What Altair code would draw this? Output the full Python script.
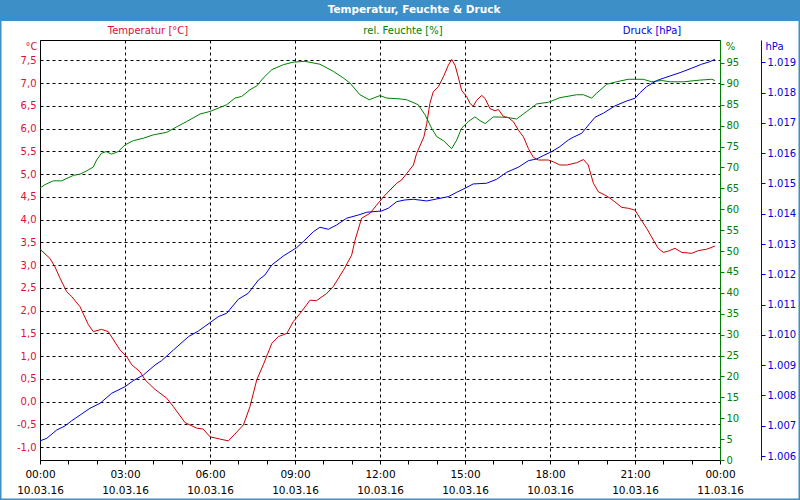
import altair as alt
import pandas as pd

# ---------------- data ----------------
temp_t = [0.0, 0.35, 0.53, 0.71, 0.94, 1.12, 1.41, 1.71, 1.88, 2.17, 2.41, 2.82, 3.06, 3.24, 3.53, 3.71,
          4.06, 4.47, 4.71, 5.12, 5.53, 5.76, 6.0, 6.35, 6.65, 7.18, 7.41, 7.65, 7.88, 8.18, 8.41, 8.71,
          8.94, 9.18, 9.53, 9.76, 10.12, 10.35, 10.71, 11.0, 11.12, 11.35, 11.65, 11.88, 12.18, 12.59,
          12.76, 12.94, 13.18, 13.29, 13.55, 13.65, 13.76, 13.88, 14.06, 14.24, 14.41, 14.53, 14.65,
          14.76, 14.88, 15.06, 15.18, 15.29, 15.41, 15.59, 15.71, 15.88, 16.06, 16.18, 16.35, 16.53,
          16.71, 16.88, 17.06, 17.24, 17.41, 17.59, 17.94, 18.12, 18.35, 18.59, 18.94, 19.18, 19.35,
          19.53, 19.71, 19.94, 20.12, 20.29, 20.53, 20.76, 21.0, 21.18, 21.41, 21.65, 21.82, 22.0,
          22.18, 22.41, 22.65, 23.0, 23.24, 23.53, 23.82]
temp_v = [3.35, 3.15, 2.96, 2.71, 2.42, 2.31, 2.09, 1.69, 1.54, 1.59, 1.54, 1.14, 0.99, 0.81, 0.66, 0.48,
          0.27, 0.08, -0.11, -0.46, -0.58, -0.60, -0.77, -0.82, -0.86, -0.51, -0.11, 0.48, 0.81, 1.28,
          1.43, 1.50, 1.76, 1.94, 2.23, 2.22, 2.38, 2.53, 2.89, 3.22, 3.55, 4.03, 4.14, 4.32, 4.54, 4.80,
          4.87, 5.01, 5.20, 5.45, 5.82, 6.11, 6.55, 6.81, 6.92, 7.14, 7.39, 7.52, 7.39, 7.14, 6.84, 6.70,
          6.55, 6.49, 6.62, 6.73, 6.66, 6.44, 6.39, 6.42, 6.27, 6.24, 6.15, 5.97, 5.82, 5.56, 5.37, 5.31,
          5.31, 5.27, 5.20, 5.20, 5.25, 5.32, 5.20, 4.80, 4.61, 4.54, 4.47, 4.39, 4.27, 4.25, 4.21, 4.03,
          3.81, 3.55, 3.37, 3.28, 3.31, 3.37, 3.28, 3.26, 3.32, 3.35, 3.42]

hum_t = [0.0, 0.18, 0.47, 0.76, 1.18, 1.41, 1.65, 1.88, 2.0, 2.17, 2.33, 2.53, 2.76, 3.0, 3.29, 3.65, 4.0,
         4.47, 4.82, 5.18, 5.65, 6.0, 6.59, 6.88, 7.12, 7.41, 7.65, 7.88, 8.18, 8.59, 8.94, 9.35, 9.88,
         10.35, 10.71, 10.94, 11.29, 11.62, 12.0, 12.24, 12.71, 12.94, 13.35, 13.59, 13.82, 14.0, 14.24,
         14.53, 14.71, 14.88, 15.12, 15.35, 15.53, 15.71, 16.0, 16.47, 16.82, 17.18, 17.53, 17.94, 18.35,
         18.94, 19.18, 19.47, 19.65, 20.0, 20.35, 20.76, 21.29, 21.59, 21.94, 22.24, 22.71, 23.29, 23.71,
         23.82]
hum_v = [65.1, 65.9, 66.8, 66.8, 68.1, 68.4, 69.2, 70.1, 71.8, 73.4, 73.8, 73.2, 73.8, 75.4, 76.4, 77.0, 77.8,
         78.4, 79.7, 81.0, 82.8, 83.4, 85.0, 86.6, 87.0, 88.6, 89.5, 91.4, 93.4, 94.6, 95.2, 95.4, 94.7,
         93.0, 91.4, 90.2, 87.4, 86.2, 87.2, 86.6, 86.4, 86.2, 85.0, 82.6, 79.4, 77.4, 76.4,
         74.5, 76.6, 79.4, 81.0, 82.1, 81.2, 80.5, 82.1, 82.0, 81.6, 83.4, 85.2, 85.6, 86.7,
         87.4, 87.4, 86.6, 87.8, 89.9, 90.5, 91.1, 91.1, 90.5, 90.8, 90.5, 90.5, 90.9, 91.1, 90.8]

press_t = [0.0, 0.24, 0.59, 0.88, 1.12, 1.47, 1.76, 2.12, 2.53, 3.0, 3.29, 3.65, 4.06, 4.29, 4.71, 5.24,
           5.59, 6.0, 6.29, 6.59, 7.0, 7.35, 7.71, 7.94, 8.18, 8.59, 9.06, 9.29, 9.65, 9.88, 10.18, 10.47,
           10.82, 11.24, 11.53, 12.06, 12.29, 12.59, 12.88, 13.18, 13.65, 14.0, 14.41, 14.71, 15.0, 15.29,
           15.76, 16.12, 16.47, 16.88, 17.24, 17.53, 17.76, 18.06, 18.35, 18.65, 18.82, 19.12, 19.41,
           19.59, 19.88, 20.29, 20.71, 21.0, 21.18, 21.41, 21.76, 22.06, 22.59, 23.0, 23.35, 23.65, 23.82]
press_v = [1006.50, 1006.585, 1006.859, 1006.991, 1007.166, 1007.387, 1007.575, 1007.740, 1008.071,
           1008.289, 1008.487, 1008.675, 1009.005, 1009.147, 1009.501, 1009.940, 1010.128, 1010.402,
           1010.600, 1010.713, 1011.175, 1011.373, 1011.812, 1011.978, 1012.308, 1012.605, 1012.880,
           1013.077, 1013.408, 1013.553, 1013.487, 1013.629, 1013.850, 1013.959, 1014.048, 1014.091,
           1014.180, 1014.398, 1014.454, 1014.477, 1014.421, 1014.487, 1014.563, 1014.709, 1014.841,
           1014.983, 1015.006, 1015.138, 1015.369, 1015.534, 1015.752, 1015.808, 1015.917, 1016.050,
           1016.215, 1016.436, 1016.525, 1016.657, 1016.987, 1017.186, 1017.318, 1017.559, 1017.724,
           1017.813, 1017.998, 1018.196, 1018.394, 1018.493, 1018.659, 1018.804, 1018.936, 1019.022,
           1019.101]

temp_ticks = [-1.0, -0.5, 0.0, 0.5, 1.0, 1.5, 2.0, 2.5, 3.0, 3.5, 4.0, 4.5, 5.0, 5.5, 6.0, 6.5, 7.0, 7.5]
hum_ticks = [0, 5, 10, 15, 20, 25, 30, 35, 40, 45, 50, 55, 60, 65, 70, 75, 80, 85, 90, 95]
press_ticks = [1006, 1007, 1008, 1009, 1010, 1011, 1012, 1013, 1014, 1015, 1016, 1017, 1018, 1019]
hour_ticks = list(range(25))

title_text = "Temperatur, Feuchte & Druck"
temp_label = "Temperatur [°C]"
hum_label = "rel. Feuchte [%]"
press_label = "Druck [hPa]"

df_t = pd.DataFrame({"t": temp_t, "v": temp_v})
df_h = pd.DataFrame({"t": hum_t, "v": hum_v})
df_p = pd.DataFrame({"t": press_t, "v": press_v})

# ---------------- styles ----------------
FONT = "DejaVu Sans"
RED_LINE = "#cc0000"
RED_TXT = "#d8103a"
GREEN = "#008000"
BLUE = "#0000dd"
BAR = "#3d8fc7"

W, H = 680, 420

x_scale = alt.Scale(domain=[0, 24], nice=False, zero=False)
x_axis = alt.Axis(
    values=hour_ticks,
    labelExpr="datum.value % 3 == 0 ? [(datum.value % 24 < 10 ? '0' : '') + (datum.value % 24) + ':00', "
              "datum.value < 24 ? '10.03.16' : '11.03.16'] : ''",
    grid=True,
    gridDash=[3, 3],
    gridColor="black",
    gridOpacity={"condition": {"test": "datum.value % 3 != 0 || datum.value == 0 || datum.value == 24",
                               "value": 0}, "value": 1},
    domainColor="black",
    tickColor="black",
    tickSize=4,
    labelPadding=5,
    labelFlush=False,
    labelOverlap=False,
    labelLineHeight=16,
    labelFontSize=10.5,
    labelColor="black",
    title=None,
)

x_enc = alt.X("t:Q", scale=x_scale, axis=x_axis)

temp = alt.Chart(df_t).mark_line(color=RED_LINE, strokeWidth=1).encode(
    x=x_enc,
    y=alt.Y("v:Q", scale=alt.Scale(domain=[-1.28, 7.946], nice=False, zero=False),
            axis=alt.Axis(orient="left", values=temp_ticks,
                          labelExpr="replace(replace(format(datum.value, '.1f'), '.', ','), '\u2212', '-')",
                          grid=True, gridDash=[3, 3], gridColor="black", ticks=False,
                          domainColor="black", labelColor=RED_TXT, labelPadding=4,
                          title="°C", titleAngle=0, titleX=-9, titleY=6, titleAlign="center",
                          titleBaseline="middle", titleColor=RED_TXT, titleFontWeight="normal")),
)

hum = alt.Chart(df_h).mark_line(color=GREEN, strokeWidth=1).encode(
    x=x_enc,
    y=alt.Y("v:Q", scale=alt.Scale(domain=[0, 100.5], nice=False, zero=False),
            axis=alt.Axis(orient="right", values=hum_ticks, format="d", grid=False,
                          domainColor=GREEN, tickColor=GREEN, tickSize=4, labelColor=GREEN,
                          labelPadding=2, zindex=2,
                          title="%", titleAngle=0, titleX=10, titleY=6, titleAlign="center",
                          titleBaseline="middle", titleColor=GREEN, titleFontWeight="normal")),
)

press = alt.Chart(df_p).mark_line(color=BLUE, strokeWidth=1).encode(
    x=x_enc,
    y=alt.Y("v:Q", scale=alt.Scale(domain=[1005.868, 1019.736], nice=False, zero=False),
            axis=alt.Axis(orient="right", offset=41, values=press_ticks,
                          labelExpr="replace(format(datum.value, ',.0f'), ',', '.')",
                          grid=False, domainColor=BLUE, tickColor=BLUE, tickSize=4,
                          labelColor=BLUE, labelPadding=2,
                          title="hPa", titleAngle=0, titleX=13, titleY=6, titleAlign="center",
                          titleBaseline="middle", titleColor=BLUE, titleFontWeight="normal")),
)

one = alt.Data(values=[{"a": 1}])

title_bar = alt.Chart(one).mark_rect(color=BAR).encode(
    x=alt.value(-40), x2=alt.value(760), y=alt.value(-40), y2=alt.value(-19)
)
border = alt.Chart(one).mark_rect(fill=None, stroke=BAR, strokeWidth=1.5).encode(
    x=alt.value(-39.25), x2=alt.value(759.25), y=alt.value(-39.25), y2=alt.value(459.25)
)
title_txt = alt.Chart(one).mark_text(color="white", font=FONT, fontSize=10.5, fontWeight="bold",
                                     align="center", baseline="middle").encode(
    x=alt.value(374), y=alt.value(-30), text=alt.value(title_text)
)


def header(txt, xpos, col):
    return alt.Chart(one).mark_text(color=col, font=FONT, fontSize=10, align="center",
                                    baseline="middle").encode(
        x=alt.value(xpos), y=alt.value(-9), text=alt.value(txt)
    )


chart = alt.layer(
    temp, hum, press,
    title_bar, border, title_txt,
    header(temp_label, 108, RED_TXT),
    header(hum_label, 363, GREEN),
    header(press_label, 612, BLUE),
).resolve_scale(y="independent").properties(
    width=W, height=H,
    autosize="none",
    padding={"left": 40, "top": 40, "right": 80, "bottom": 40},
    background="white",
).configure_view(
    stroke="black", strokeWidth=1
).configure_axis(
    labelFont=FONT, labelFontSize=10, titleFont=FONT, titleFontSize=10
)

chart.save("out.html", embed_options={"renderer": "svg", "actions": False})
